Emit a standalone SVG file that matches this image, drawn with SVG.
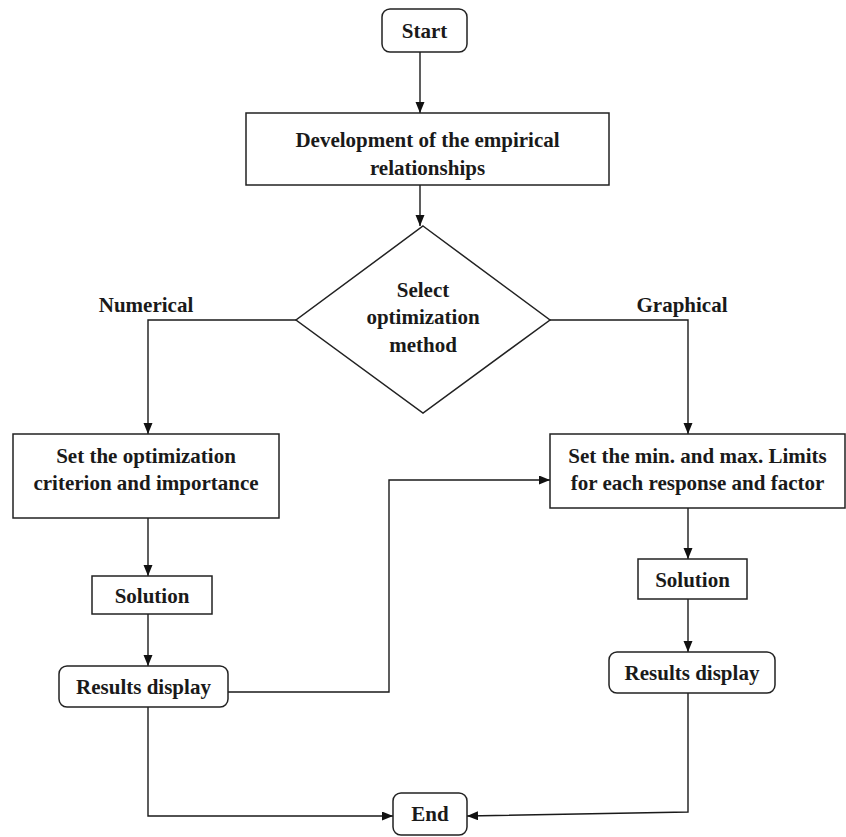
<svg xmlns="http://www.w3.org/2000/svg" width="846" height="837" viewBox="0 0 846 837">
<defs>
<marker id="ah" markerUnits="userSpaceOnUse" markerWidth="12" markerHeight="10" refX="11" refY="4.5" orient="auto">
<path d="M0,0 L11,4.5 L0,9 z" fill="#111"/>
</marker>
<style>
.box{fill:#fff;stroke:#222;stroke-width:1.5}
.t{font-family:"Liberation Serif","Times New Roman",serif;font-weight:bold;font-size:21px;fill:#1a1a1a;text-anchor:middle}
.c{fill:none;stroke:#1a1a1a;stroke-width:1.4}
</style>
</defs>
<rect width="846" height="837" fill="#fff"/>
<g id="connectors">
<path class="c" d="M420,52 V113" marker-end="url(#ah)"/>
<path class="c" d="M420,185 V226" marker-end="url(#ah)"/>
<path class="c" d="M296,320 H148 V434" marker-end="url(#ah)"/>
<path class="c" d="M550,320 H688 V434" marker-end="url(#ah)"/>
<path class="c" d="M148,518 V576" marker-end="url(#ah)"/>
<path class="c" d="M148,614 V666" marker-end="url(#ah)"/>
<path class="c" d="M688,508 V559" marker-end="url(#ah)"/>
<path class="c" d="M688,599 V652" marker-end="url(#ah)"/>
<path class="c" d="M228,692 H389 V480 H550" marker-end="url(#ah)"/>
<path class="c" d="M148,707 V816 H393" marker-end="url(#ah)"/>
<path class="c" stroke="#444" d="M688,692 V812 L467,816" marker-end="url(#ah)"/>
</g>
<g id="start">
<rect class="box" x="382" y="9" width="85" height="43" rx="8"/>
<text class="t" x="424.5" y="38">Start</text>
</g>
<g id="develop">
<rect class="box" x="246" y="113" width="363" height="72"/>
<text class="t" x="427.5" y="147">Development of the empirical</text>
<text class="t" x="427.5" y="175">relationships</text>
</g>
<g id="decision">
<polygon class="box" points="423,226 550,320 423,413 296,320"/>
<text class="t" x="423" y="297">Select</text>
<text class="t" x="423" y="324">optimization</text>
<text class="t" x="423" y="352">method</text>
</g>
<g id="label-numerical">
<text class="t" x="146" y="312">Numerical</text>
</g>
<g id="label-graphical">
<text class="t" x="682" y="312">Graphical</text>
</g>
<g id="criterion">
<rect class="box" x="13" y="434" width="266" height="84"/>
<text class="t" x="146" y="463">Set the optimization</text>
<text class="t" x="146" y="490">criterion and importance</text>
</g>
<g id="limits">
<rect class="box" x="550" y="434" width="295" height="74"/>
<text class="t" x="697.5" y="463">Set the min. and max. Limits</text>
<text class="t" x="697.5" y="490">for each response and factor</text>
</g>
<g id="solution-left">
<rect class="box" x="92" y="576" width="120" height="38"/>
<text class="t" x="152" y="603">Solution</text>
</g>
<g id="solution-right">
<rect class="box" x="638" y="559" width="109" height="40"/>
<text class="t" x="692.5" y="587">Solution</text>
</g>
<g id="results-left">
<rect class="box" x="59" y="666" width="169" height="41" rx="8"/>
<text class="t" x="143.5" y="694">Results display</text>
</g>
<g id="results-right">
<rect class="box" x="609" y="652" width="166" height="41" rx="8"/>
<text class="t" x="692" y="680">Results display</text>
</g>
<g id="end">
<rect class="box" x="393" y="793" width="74" height="42" rx="8"/>
<text class="t" x="430" y="821">End</text>
</g>
</svg>
